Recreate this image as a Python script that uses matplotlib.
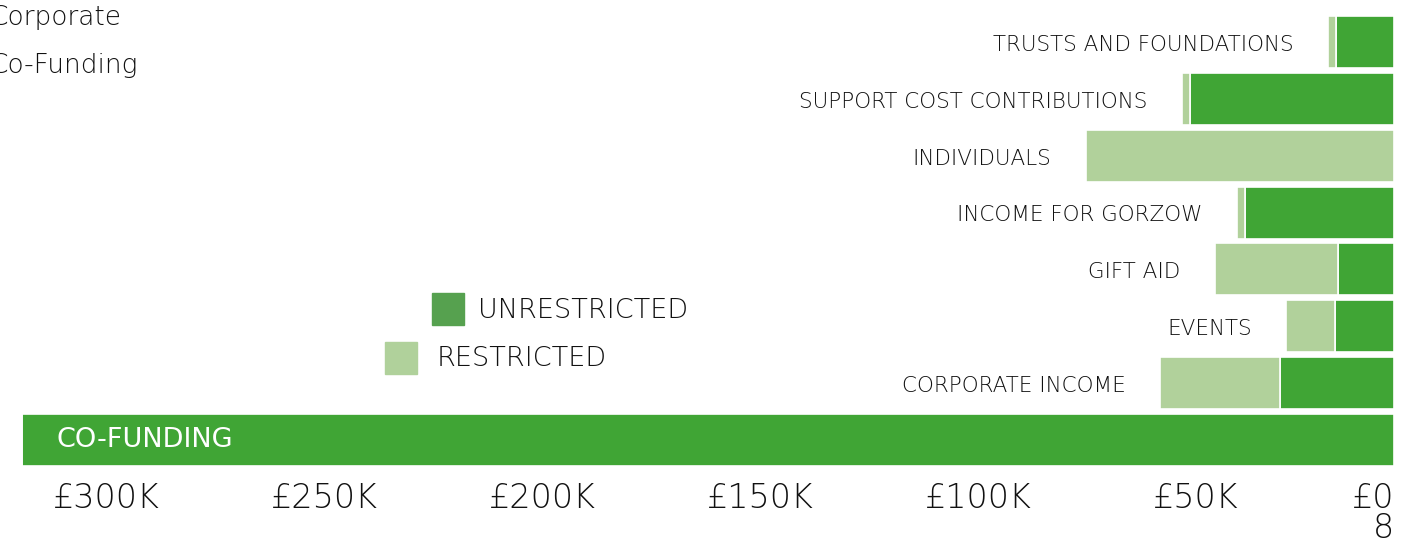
import matplotlib.pyplot as plt
from matplotlib.patches import Rectangle
from matplotlib.transforms import ScaledTranslation

# valores en miles de libras
categorias = ['TRUSTS AND FOUNDATIONS', 'SUPPORT COST CONTRIBUTIONS', 'INDIVIDUALS',
              'INCOME FOR GORZOW', 'GIFT AID', 'EVENTS', 'CORPORATE INCOME', 'CO-FUNDING']
unrestricted = [13.3, 46.8, 0.0, 34.2, 12.8, 13.5, 26.1, 314.7]
restricted = [1.8, 1.8, 70.6, 1.8, 28.2, 11.2, 27.5, 0.0]
ticks = [300, 250, 200, 150, 100, 50, 0]
tick_labels = ['£300K', '£250K', '£200K', '£150K', '£100K', '£50K', '£0\n8']

verde = '#40a535'
verde_claro = '#b1d19b'
texto = '#111111'

plt.rcParams['font.family'] = ['DejaVu Sans']

W, H = 1418, 543
fig = plt.figure(figsize=(W / 100, H / 100), dpi=100)
ax = fig.add_axes([0, (H - 470) / H, 1394 / W, 460 / H])

y = list(range(len(categorias)))
ax.barh(y, unrestricted, height=0.915, color=verde, edgecolor='white', linewidth=1.2)
ax.barh(y, restricted, left=unrestricted, height=0.915, color=verde_claro,
        edgecolor='white', linewidth=1.2)

ax.set_xlim(1394 / 4.36, 0)
ax.set_ylim(7.527, -0.563)

# etiquetas de las categorias a la izquierda de cada barra
for i, nombre in enumerate(categorias[:-1]):
    total = unrestricted[i] + restricted[i]
    ax.annotate(nombre, xy=(total, i), xytext=(-25, -2), textcoords='offset points',
                ha='right', va='center', fontsize=15.5, color=texto, fontweight='light')
ax.text((1394 - 57) / 4.36, 7, categorias[-1], ha='left', va='center',
        fontsize=19.5, color='white')

ax.set_xticks(ticks)
ax.set_xticklabels(tick_labels, fontsize=24, color=texto, linespacing=0.85,
                   fontweight='light')
ax.tick_params(axis='x', length=0, pad=9)
ax.set_yticks([])
for s in ax.spines.values():
    s.set_visible(False)
for lab in ax.get_xticklabels():
    if lab.get_text().startswith('£0'):
        lab.set_horizontalalignment('right')
        lab.set_multialignment('right')
    else:
        lab.set_transform(lab.get_transform() + ScaledTranslation(0.2, 0, fig.dpi_scale_trans))

# leyenda
def px(x, y_):
    return x / W, 1 - y_ / H

fig.add_artist(Rectangle(px(432, 325), 32 / W, 32 / H, color='#56a14f', transform=fig.transFigure))
fig.add_artist(Rectangle(px(385, 374), 32 / W, 32 / H, color='#b0d19b', transform=fig.transFigure))
fig.text(*px(478, 310), 'UNRESTRICTED', fontsize=19.5, color=texto, va='center',
         fontweight='light')
fig.text(*px(437, 358), 'RESTRICTED', fontsize=19.5, color=texto, va='center',
         fontweight='light')

fig.text(*px(-10, 17), 'Corporate', fontsize=19, color=texto, va='center', fontweight='light')
fig.text(*px(-10, 65), 'Co-Funding', fontsize=19, color=texto, va='center', fontweight='light')

fig.savefig('out.png', dpi=100)
